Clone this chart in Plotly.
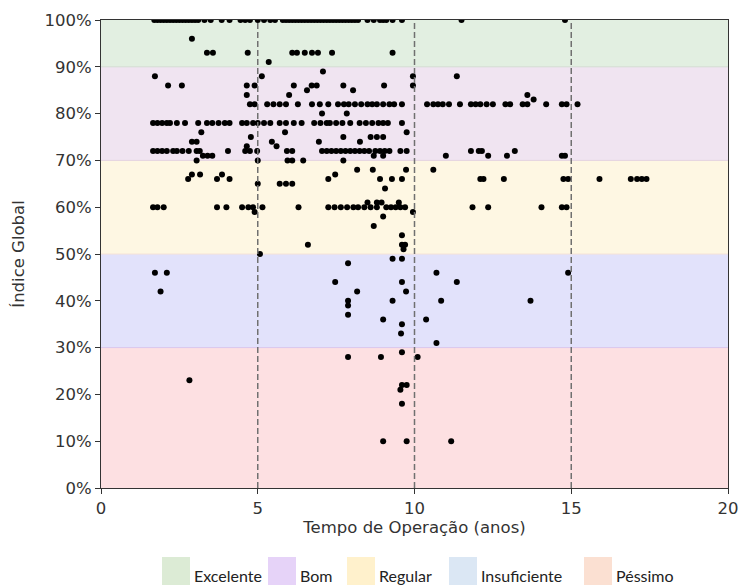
import plotly.graph_objects as go

# ---- data: Índice Global (%) level -> list of Tempo de Operação (anos) ----
excelente = {
    100: [1.7, 1.8, 1.9, 2.0, 2.1, 2.2, 2.3, 2.4, 2.5, 2.6, 2.7, 2.8, 2.9, 3.0, 3.1,
          3.3, 3.5, 3.85, 4.1, 4.45, 4.6, 4.75, 5.0, 5.2, 5.4, 5.55, 5.8, 5.9, 6.0,
          6.1, 6.2, 6.3, 6.4, 6.5, 6.6, 6.7, 6.8, 6.9, 7.0, 7.1, 7.2, 7.3, 7.4, 7.5,
          7.6, 7.7, 7.8, 7.9, 8.0, 8.1, 8.2, 8.5, 8.7, 8.9, 9.0, 9.1, 9.3, 9.6,
          11.5, 14.8],
    96: [2.9],
    93: [3.38, 3.57, 4.68, 6.1, 6.25, 6.5, 6.73, 6.92, 7.37, 9.3],
    91: [5.35],
}
bom = {
    89: [7.08],
    88: [1.72, 5.13, 9.95, 11.35],
    86: [2.14, 2.58, 4.65, 4.9, 6.15, 6.72, 6.88, 7.73, 9.03, 9.95],
    85: [6.57, 8.04],
    84: [4.65, 6.0, 13.6],
    83: [13.8],
    82: [4.75, 4.9, 5.3, 5.5, 5.7, 5.9, 6.28, 6.73, 6.98, 7.25, 7.56, 7.75, 7.9, 8.1,
         8.3, 8.5, 8.65, 8.8, 9.0, 9.2, 9.35, 9.6, 10.4, 10.6, 10.75, 10.9, 11.1,
         11.45, 11.8, 11.95, 12.1, 12.3, 12.5, 12.9, 13.05, 13.45, 13.6, 14.2,
         14.7, 14.85, 15.2],
    80: [7.05, 7.84],
    78: [1.66, 1.8, 1.95, 2.1, 2.2, 2.42, 2.68, 3.1, 3.38, 3.55, 3.75, 3.95, 4.1,
         4.5, 4.65, 4.85, 5.0, 5.2, 5.4, 5.7, 5.9, 6.15, 6.4, 6.8, 7.0, 7.2, 7.3,
         7.5, 7.7, 7.95, 8.25, 8.45, 8.65, 8.85, 9.0, 9.15, 9.6],
    76: [3.2, 5.87, 9.75],
    75: [4.78, 7.73, 8.6, 8.8, 9.0],
    74: [2.9, 3.05, 5.45, 6.95, 8.26],
    73: [4.65, 5.6],
    72: [1.66, 1.8, 1.95, 2.1, 2.3, 2.42, 2.6, 2.8, 3.05, 3.15, 4.05, 4.6, 4.75,
         4.98, 5.93, 6.1, 7.05, 7.2, 7.35, 7.5, 7.65, 7.8, 7.95, 8.1, 8.25, 8.4,
         8.55, 8.75, 8.9, 9.05, 9.2, 9.55, 9.75, 11.8, 12.05, 12.15, 13.2],
    71: [3.25, 3.4, 3.55, 8.7, 9.0, 11.0, 12.35, 12.95, 14.7, 14.8],
    70: [3.05, 5.0, 5.95, 6.1, 6.45, 7.73],
}
regular = {
    68: [8.17, 8.67, 9.73, 10.6],
    67: [2.9, 3.16, 3.86, 7.47],
    66: [2.78, 3.7, 4.1, 7.25, 8.9, 9.28, 9.6, 12.1, 12.2, 12.85, 14.75, 14.9,
         15.9, 16.9, 17.1, 17.25, 17.4],
    65: [5.0, 5.7, 5.9, 6.1],
    64: [9.06],
    61: [8.5, 8.8, 8.95, 9.5],
    60: [1.66, 1.8, 2.0, 3.7, 4.0, 4.5, 4.7, 4.85, 5.15, 6.3, 7.25, 7.45, 7.65,
         7.85, 8.05, 8.2, 8.4, 8.6, 8.8, 9.1, 9.25, 9.4, 9.55, 9.7, 11.85, 12.35,
         14.05, 14.7, 14.85],
    59: [4.9, 9.95],
    58: [9.0],
    56: [8.7],
    54: [9.6],
    52: [6.6, 9.6, 9.7],
    51: [9.65],
    50: [5.07],
}
insuficiente = {
    49: [9.3, 9.6],
    48: [7.88],
    46: [1.72, 2.1, 10.7, 14.9],
    44: [7.47, 9.6, 11.35],
    42: [1.9, 8.17, 9.73],
    40: [7.88, 9.3, 10.85, 13.7],
    39: [7.88],
    37: [7.88],
    36: [9.0, 10.37],
    35: [9.6],
    33: [9.57],
    31: [10.7],
}
pessimo = {
    29: [9.6],
    28: [7.88, 8.93, 10.1],
    23: [2.82],
    22: [9.6, 9.75],
    21: [9.55],
    18: [9.6],
    10: [9.0, 9.75, 11.17],
}

# classification bands (lower, upper, fill colour)
faixas_nomes = ["Péssimo", "Insuficiente", "Regular", "Bom", "Excelente"]
faixas_lim = [(0, 30), (30, 50), (50, 70), (70, 90), (90, 100)]
faixas_cor = ["#fde0e2", "#e2e2fb", "#fef7e3", "#f0e4f1", "#e2efe1"]
faixas_borda = ["#f3c6cc", "#d9c6ec", "#f6e2d6", "#e3d3df", "#d3dcd2"]

legenda_nomes = ["Excelente", "Bom", "Regular", "Insuficiente", "Péssimo"]
legenda_cor = ["#dcebd5", "#e6d3f8", "#fff1cc", "#dbe7f4", "#fbe0d2"]

marcos_anos = [5, 10, 15]
x_ticks = [0, 5, 10, 15, 20]
y_ticks = [0, 10, 20, 30, 40, 50, 60, 70, 80, 90, 100]
y_labels = [f"{v}%" for v in y_ticks]

# ---- build point lists ----
tempo, indice = [], []
for grupo in (excelente, bom, regular, insuficiente, pessimo):
    for nivel, anos in grupo.items():
        for a in anos:
            tempo.append(a)
            indice.append(nivel)

fig = go.Figure()
fig.add_trace(go.Scatter(
    x=tempo, y=indice, mode="markers",
    marker=dict(color="black", size=6, line=dict(width=0)),
    showlegend=False, hoverinfo="x+y",
))

shapes = []
for (lo, hi), cor in zip(faixas_lim, faixas_cor):
    shapes.append(dict(type="rect", xref="x domain", yref="y", x0=0, x1=1,
                       y0=lo, y1=hi, fillcolor=cor, line=dict(width=0),
                       layer="below"))
for (lo, hi), borda in zip(faixas_lim[1:], faixas_borda[1:]):
    shapes.append(dict(type="line", xref="x domain", yref="y", x0=0, x1=1,
                       y0=lo, y1=lo, line=dict(color=borda, width=1),
                       layer="below"))
for m in marcos_anos:
    shapes.append(dict(type="line", xref="x", yref="y domain", x0=m, x1=m,
                       y0=0, y1=1, line=dict(color="#707070", width=1.5,
                                             dash="6px,3px"),
                       layer="above"))

# custom legend below the chart (patches + labels)
annotations = []
leg_x = [162, 268, 347, 449, 584]   # pixel positions of the patches
plot_l, plot_r, plot_t, plot_b = 101, 728, 20, 488
pw, ph = plot_r - plot_l, plot_b - plot_t
for nome, cor, px in zip(legenda_nomes, legenda_cor, leg_x):
    shapes.append(dict(type="rect", xref="paper", yref="paper",
                       x0=(px - plot_l) / pw, x1=(px + 28 - plot_l) / pw,
                       y0=(plot_b - 586) / ph, y1=(plot_b - 557) / ph,
                       fillcolor=cor, line=dict(width=0), layer="above"))
    annotations.append(dict(xref="paper", yref="paper",
                            x=(px + 30 - plot_l) / pw, y=(plot_b - 575) / ph,
                            xanchor="left", yanchor="middle", showarrow=False,
                            text=nome, font=dict(family="Lato", size=16,
                                                 color="#222")))

fig.update_layout(
    width=739, height=585,
    margin=dict(l=plot_l, r=739 - plot_r, t=plot_t, b=585 - plot_b),
    paper_bgcolor="white", plot_bgcolor="white",
    font=dict(family="DejaVu Sans", size=17, color="#333"),
    shapes=shapes, annotations=annotations,
    xaxis=dict(range=[0, 20], tickvals=x_ticks, showgrid=False, zeroline=False,
               showline=True, linecolor="#333", linewidth=1, mirror=True,
               ticks="outside", ticklen=5, tickcolor="#333", automargin=False,
               tickfont=dict(size=16.5),
               title=dict(text="Tempo de Operação (anos)", standoff=2,
                          font=dict(size=16.5))),
    yaxis=dict(range=[0, 100], tickvals=y_ticks, ticktext=y_labels,
               showgrid=False, zeroline=False, showline=True, linecolor="#333",
               linewidth=1, mirror=True, ticks="outside", ticklen=5,
               tickcolor="#333", tickfont=dict(size=16.5), automargin=False,
               title=dict(text="Índice Global", standoff=15,
                          font=dict(size=16.5))),
)

fig.write_html("out.html")
